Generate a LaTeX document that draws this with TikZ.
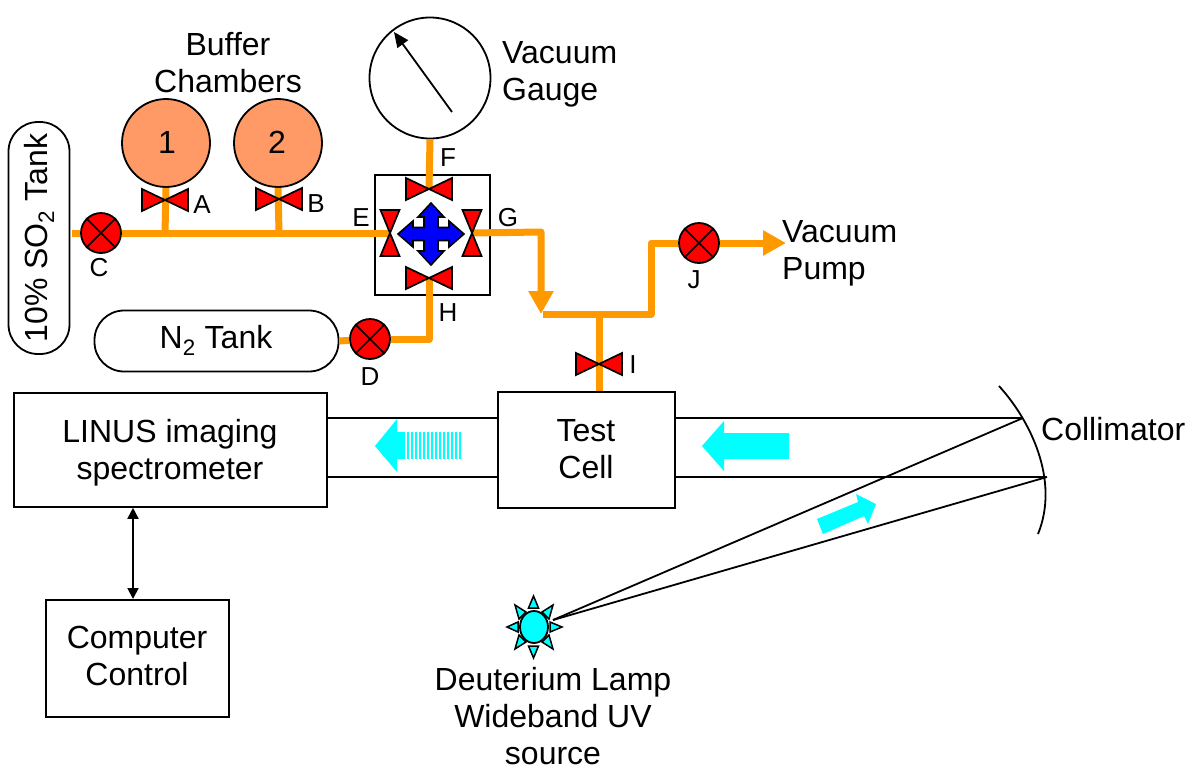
\documentclass[tikz,border=0pt]{standalone}
\usepackage{fontspec}
\setmainfont{Liberation Sans}
\usetikzlibrary{arrows.meta,shapes.geometric}
\definecolor{lampcyan}{rgb}{0,1,1}
\definecolor{purered}{rgb}{1,0,0}
\definecolor{pureblue}{rgb}{0,0,1}
\tikzset{
  x=1pt,y=-1pt,
  lbl/.style={inner sep=0pt,font=\fontsize{32}{37}\selectfont,align=center},
  lblleft/.style={inner sep=0pt,font=\fontsize{32}{37}\selectfont,align=left,anchor=west},
  small/.style={inner sep=0pt,font=\fontsize{26}{28}\selectfont},
  blk/.style={draw=black,line width=1.8pt},
  boxnode/.style={blk,rectangle,inner sep=0pt,fill=white,anchor=north west},
  tank/.style={blk,rounded corners=29.5pt,fill=white,rectangle,inner sep=0pt},
  pipe/.style={draw={rgb,255:red,255;green,153;blue,0},line width=7pt,line join=round},
  pipehead/.style={pipe,-{Triangle[length=23pt,width=24pt]}},
  chamber/.style={blk,circle,fill={rgb,255:red,255;green,153;blue,102},minimum size=88pt,inner sep=0pt},
  stopv/.style={blk,circle,fill=purered,minimum size=40pt,inner sep=0pt},
  valveshape/.style={draw=black,line width=1.7pt,fill=purered,line join=miter},
  beam/.style={draw=black,line width=1.8pt},
  cy/.style={fill=lampcyan,draw=none},
  hvalve/.pic={\path[valveshape] (-23,-11) -- (23,11) -- (23,-11) -- (-23,11) -- cycle;},
  vvalve/.pic={\path[valveshape] (-9.5,-23) -- (9.5,23) -- (-9.5,23) -- (9.5,-23) -- cycle;},
}
\begin{document}
\begin{tikzpicture}
\useasboundingbox (0,0) rectangle (1187,766);

% --- anchors
\coordinate (tankout) at (72,233);
\coordinate (jA) at (165,233);
\coordinate (jB) at (279,233);
\coordinate (vA) at (165,200);
\coordinate (vB) at (279,199);
\coordinate (vE) at (390,233);
\coordinate (vG) at (472,233);
\coordinate (vF) at (429,189);
\coordinate (vH) at (429,278);
\coordinate (vI) at (599,364);
\coordinate (teeL) at (541,232);
\coordinate (pipeTip) at (541,314);
\coordinate (hStart) at (543,314);
\coordinate (hEnd) at (651,314);
\coordinate (up) at (651,243);
\coordinate (teeI) at (599,314);
\coordinate (pumpTip) at (786,243);
\coordinate (dCorner) at (429,339);
\coordinate (yUpper) at (0,418);
\coordinate (yLower) at (0,477);
\coordinate (xDouble) at (133,0);

% --- box of the manifold
\node[boxnode,minimum width=115pt,minimum height=120pt] (manifold) at (374,174) {};

% --- main nodes
\node[chamber] (ch1) at (166,143) {};
\node[chamber] (ch2) at (278,143) {};
\node[blk,circle,fill=white,minimum size=121pt,inner sep=0pt] (gauge) at (430,78) {};
\node[tank,minimum width=61pt,minimum height=232pt] (so2) at (39,238) {};
\node[tank,minimum width=244pt,minimum height=61pt] (n2) at (216.5,341) {};
\node[stopv] (C) at (101,233) {};
\node[stopv] (D) at (370,339) {};
\node[stopv] (J) at (699,243) {};
\node[boxnode,minimum width=313pt,minimum height=114pt] (linus) at (13,392) {};
\node[boxnode,minimum width=177pt,minimum height=116pt] (cell) at (497,391) {};
\node[boxnode,minimum width=183pt,minimum height=117pt] (comp) at (45,599) {};

% --- pipes
\path[pipe] (tankout) -- (C);
\path[pipe] (C) -- (vE);
\path[pipe] (ch1.south) -- (jA);
\path[pipe] (ch2.south) -- (jB);
\path[pipe] (gauge.south) -- (vF);
\path[pipehead] (vG) -- (teeL) -- (pipeTip);
\path[pipe] (hStart) -- (hEnd) -- (up) -- (J);
\path[pipehead] (J) -- (pumpTip);
\path[pipe] (teeI) -- (teeI |- cell.north);
\path[pipe] (n2.east) -- (D);
\path[pipe] (D) -- (dCorner) -- (vH);

% --- valves
\pic at (vA) {hvalve};
\pic at (vB) {hvalve};
\pic at (vF) {hvalve};
\pic at (vH) {hvalve};
\pic at (vI) {hvalve};
\pic at (vE) {vvalve};
\pic at (vG) {vvalve};

% --- stop valve crosses
\foreach \n in {C,D,J}{
  \draw[black,line width=1.7pt] (\n.45) -- (\n.225) (\n.135) -- (\n.315);
}

% --- cross arrow in the manifold
\coordinate (xc) at (431,234);
\draw[black,line width=1.6pt,fill=pureblue,line join=miter,shift={(xc)}]
  (0,-31) -- (13,-17) -- (7,-17) -- (7,-6.5) -- (18,-6.5) -- (18,-13) -- (33,0)
  -- (18,13) -- (18,6.5) -- (7,6.5) -- (7,17) -- (13,17) -- (0,31)
  -- (-13,17) -- (-7,17) -- (-7,6.5) -- (-18,6.5) -- (-18,13) -- (-33,0)
  -- (-18,-13) -- (-18,-6.5) -- (-7,-6.5) -- (-7,-17) -- (-13,-17) -- cycle;

% --- gauge needle
\coordinate (needleA) at (452,112);
\coordinate (needleB) at (394,32);
\draw[black,line width=1.8pt,-{Triangle[length=15pt,width=13pt]}] (needleA) -- (needleB);

% --- optical beam
\coordinate (m1) at (1023,418);
\coordinate (m2) at (1047,477);
\coordinate (mirrorA) at (999,386);
\coordinate (mirrorB) at (1038,534);
\coordinate (lampFocus) at (553,620);
\path[beam] (linus.east |- yUpper) -- (cell.west |- yUpper);
\path[beam] (linus.east |- yLower) -- (cell.west |- yLower);
\path[beam] (cell.east |- yUpper) -- (m1);
\path[beam] (cell.east |- yLower) -- (m2);
\path[beam] (m1) -- (lampFocus);
\path[beam] (m2) -- (lampFocus);
\path[beam] (mirrorA) .. controls (1030,420) and (1060,480) .. (mirrorB);

% --- cyan arrows
\path[cy] (702,446) -- (724,421) -- (724,433) -- (789,433) -- (789,459) -- (724,459) -- (724,471) -- cycle;
\path[cy] (375,446) -- (397,419) -- (397,432) -- (403,432) -- (403,459) -- (397,459) -- (397,472) -- cycle;
\foreach \i in {0,...,14}{
  \path[cy] ({403+\i*4},432) rectangle ({405.2+\i*4},459);
}
\path[cy] (817,519) -- (858,502) -- (856,494) -- (876,504) -- (868,524) -- (864,516) -- (823,534) -- cycle;

% --- lamp
\node[blk,ellipse,fill=lampcyan,minimum width=28pt,minimum height=32pt,inner sep=0pt] (lamp) at (534,627) {};
\foreach \tipx/\tipy/\ax/\ay/\bx/\by in {
  533.5/596/528.5/608/538.5/608, 533.5/658/528.5/646/538.5/646,
  507/627/518/622/518/632, 562/627/550/622/550/632,
  553/605/542/612/549/619, 515/605/526/612/519/619,
  515/649/519/635/526/642, 553/649/549/635/542/642}{
  \draw[black,line width=1.5pt,fill=lampcyan,line join=miter] (\tipx,\tipy) -- (\ax,\ay) -- (\bx,\by) -- cycle;
}

% --- double arrow
\draw[black,line width=1.8pt,{Triangle[length=11pt,width=11pt]}-{Triangle[length=11pt,width=11pt]}] (xDouble |- linus.south) -- (xDouble |- comp.north);

% --- texts
\node[lbl] (tBuffer) at (228,63) {Buffer\\Chambers};
\node[lbl] (t1) at (167,142) {1};
\node[lbl] (t2) at (277,142) {2};
\node[lblleft] (tGauge) at (502,74) {Vacuum\\Gauge};
\node[lblleft] (tPump) at (782,253) {Vacuum\\Pump};
\node[lbl,rotate=90] (tSO2) at (39,238) {10\% SO\textsubscript{2} Tank};
\node[lbl] (tN2) at (216,340) {N\textsubscript{2} Tank};
\node[lbl] (tLinus) at (170,453) {LINUS imaging\\spectrometer};
\node[lbl] (tCell) at (586,449) {Test\\Cell};
\node[lbl] (tComp) at (137,656) {Computer\\Control};
\node[lblleft] (tColl) at (1041,429) {Collimator};
\node[lbl] (tLamp) at (553,716) {Deuterium Lamp\\Wideband UV\\source};
\node[small] (lA) at (202,205) {A};
\node[small] (lB) at (316,204) {B};
\node[small] (lC) at (99,268) {C};
\node[small] (lD) at (370,377) {D};
\node[small] (lE) at (361,218) {E};
\node[small] (lF) at (448,158) {F};
\node[small] (lG) at (508,218) {G};
\node[small] (lH) at (448,313) {H};
\node[small] (lI) at (633,365) {I};
\node[small] (lJ) at (694,280) {J};
\end{tikzpicture}
\end{document}
